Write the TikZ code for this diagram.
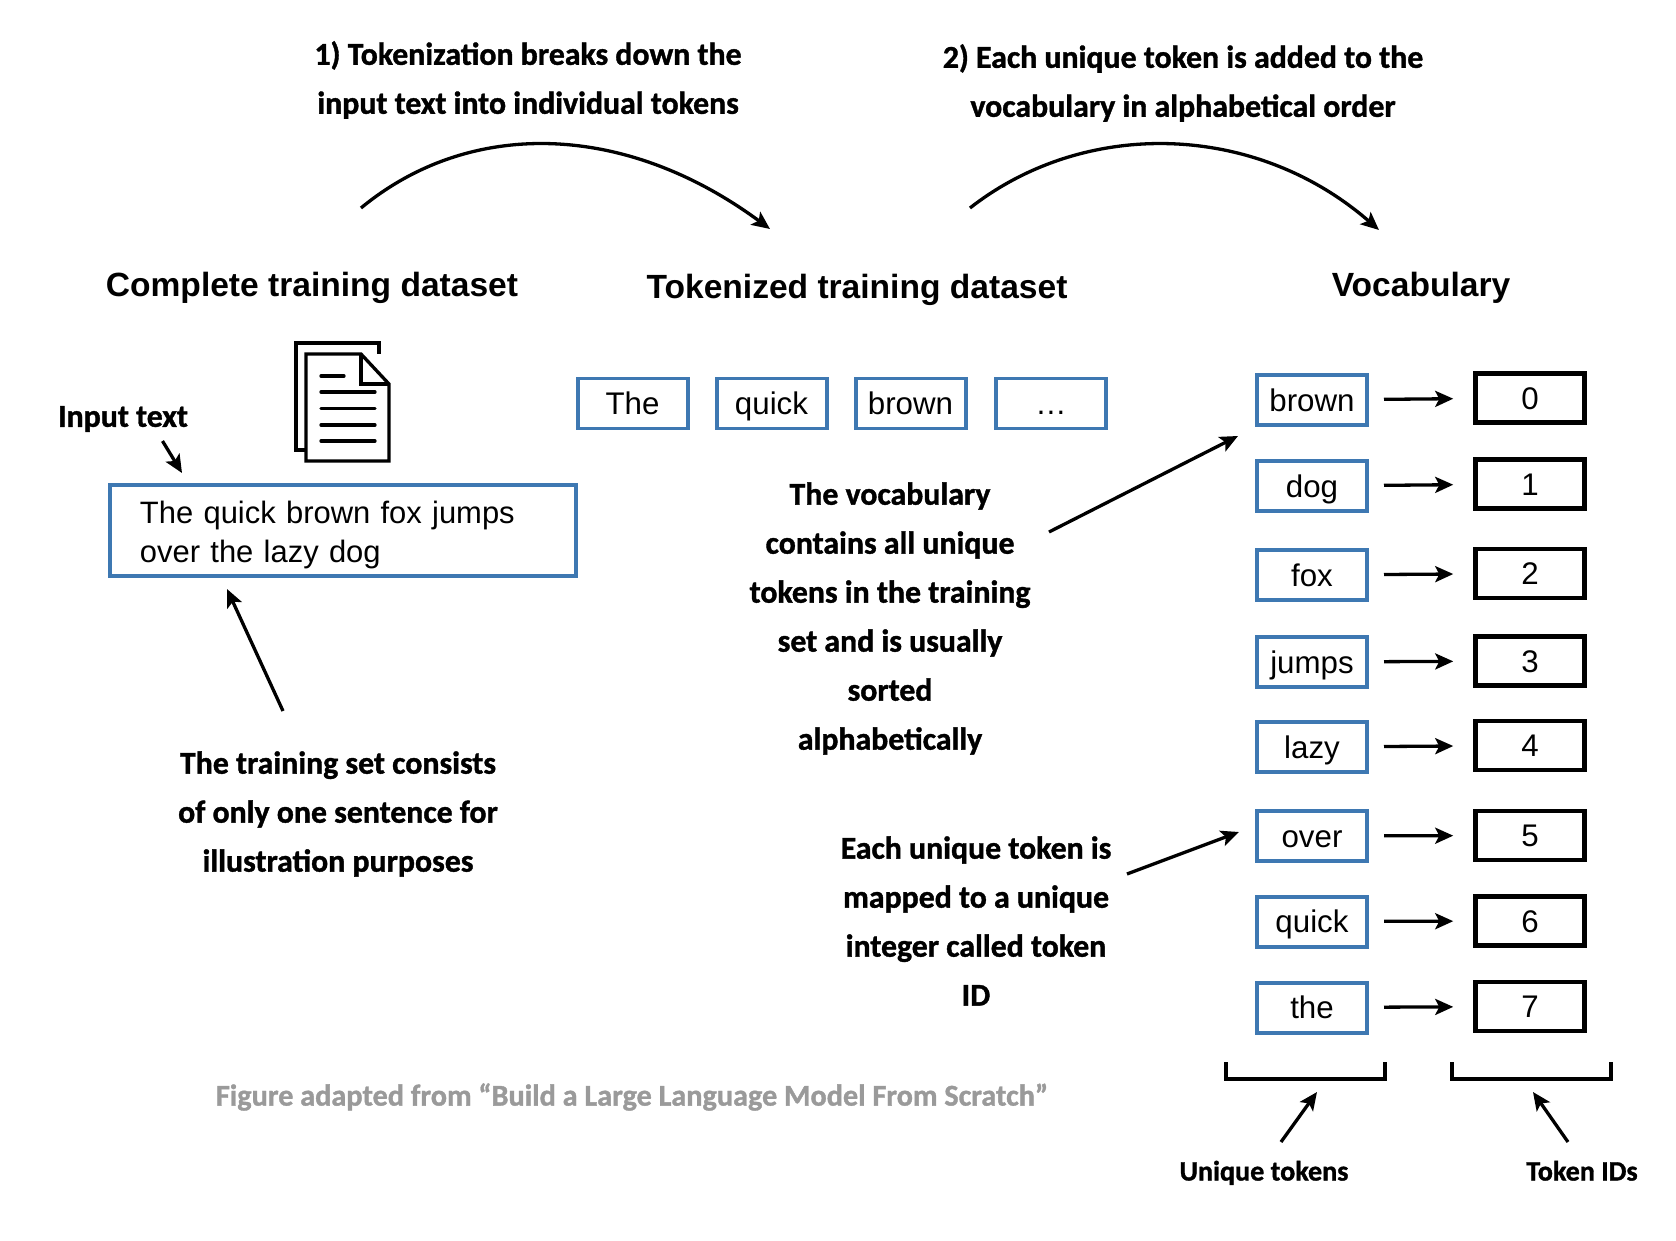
\documentclass[tikz,border=0pt]{standalone}
\usepackage{fontspec}
\setmainfont{Liberation Sans}
\newfontfamily\notefamily[FakeBold=1.2]{Carlito Bold}
\usetikzlibrary{arrows.meta}
\usetikzlibrary{calc}
\definecolor{tokenblue}{HTML}{3E78B2}
\definecolor{notegray}{HTML}{9A9A9A}
\tikzset{
  arrowline/.style={draw=black, line width=0.033cm, -{Stealth[length=1.8mm,width=1.6mm,inset=0.4mm]}},
  noteline/.style={font=\notefamily\fontsize{9.05}{13.94}\selectfont, align=center, inner sep=0pt},
  footline/.style={font=\notefamily\fontsize{8}{10}\selectfont, inner sep=0pt, text height=0.22cm, text depth=0.07cm},
  titleline/.style={font=\bfseries\fontsize{9.55}{11}\selectfont, inner sep=0pt},
  wordbox/.style={draw=tokenblue, line width=0.04cm, minimum width=1.10cm, minimum height=0.50cm, inner sep=0pt, text height=0.27cm, text depth=0.05cm, font=\fontsize{8.9}{10}\selectfont},
  idbox/.style={draw=black, line width=0.045cm, minimum width=1.09cm, minimum height=0.49cm, inner sep=0pt, text height=0.27cm, text depth=0.05cm, font=\fontsize{8.9}{10}\selectfont},
  docline/.style={draw=black, line width=0.033cm}
}
\begin{document}
\begin{tikzpicture}
        \useasboundingbox (0, 0) rectangle (16.76, 12.40);

        % top notes and titles
        \node[noteline] (stepone) at (5.28, 11.60) {1) Tokenization breaks down the\\input text into individual tokens};
        \node[noteline] (steptwo) at (11.83, 11.57) {2) Each unique token is added to the\\vocabulary in alphabetical order};
        \node[titleline] (completetitle) at (3.12, 9.52) {Complete training dataset};
        \node[titleline] (tokenizedtitle) at (8.57, 9.50) {Tokenized training dataset};
        \node[titleline] (vocabtitle) at (14.21, 9.52) {Vocabulary};

        \draw[arrowline] ([shift={(-1.67,-1.28)}]stepone.center) .. controls (4.70, 11.22) and (6.25, 11.18) .. ([shift={(-0.87,0.61)}]tokenizedtitle.center);
        \draw[arrowline] ([shift={(-2.13,-1.25)}]steptwo.center) .. controls (10.85, 11.22) and (12.55, 11.18) .. ([shift={(-0.42,0.58)}]vocabtitle.center);

        % document icon
        \draw[docline] (3.06, 7.90) -- (2.96, 7.90) -- (2.96, 8.97) -- (3.79, 8.97) -- (3.79, 8.86);
        \draw[docline, fill=white] (3.06, 8.86) -- (3.61, 8.86) -- (3.89, 8.56) -- (3.89, 7.79) -- (3.06, 7.79) -- cycle;
        \draw[docline] (3.61, 8.86) -- (3.61, 8.56) -- (3.89, 8.56);
        \draw[docline, line cap=round] (3.21, 8.64) -- (3.44, 8.64);
        \draw[docline, line cap=round] (3.21, 8.48) -- (3.75, 8.48);
        \draw[docline, line cap=round] (3.21, 8.315) -- (3.75, 8.315);
        \draw[docline, line cap=round] (3.21, 8.15) -- (3.75, 8.15);
        \draw[docline, line cap=round] (3.21, 7.99) -- (3.75, 7.99);

        % input text
        \node[noteline] (inputlabel) at (1.23, 8.21) {Input text};
        \node[draw=tokenblue, line width=0.04cm, text width=4.06cm, inner xsep=0.30cm, inner ysep=0pt, minimum height=0.91cm, align=left, font=\fontsize{8.8}{11.09}\selectfont] (inputbox) at (3.43, 7.095) {\rule{0pt}{9pt}The quick brown fox jumps\\over the lazy dog};
        \node[noteline] (trainnote) at (3.38, 4.26) {The training set consists\\of only one sentence for\\illustration purposes};

        \draw[arrowline] ([shift={(0.395,-0.22)}]inputlabel.center) -- ([shift={(0.74,0.10)}]inputbox.north west);
        \draw[arrowline] ([shift={(-0.55,1.03)}]trainnote.center) -- ([shift={(1.19,-0.11)}]inputbox.south west);

        % tokens
        \node[wordbox] (tokenthe) at (6.325, 8.365) {The};
        \node[wordbox] (tokenquick) at (7.715, 8.365) {quick};
        \node[wordbox] (tokenbrown) at (9.105, 8.365) {brown};
        \node[wordbox] (tokendots) at (10.51, 8.365) {\ldots};

        % vocabulary
        \node[wordbox] (wordbrown) at (13.12, 8.40) {brown};
        \node[wordbox] (worddog) at (13.12, 7.54) {dog};
        \node[wordbox] (wordfox) at (13.12, 6.65) {fox};
        \node[wordbox] (wordjumps) at (13.12, 5.78) {jumps};
        \node[wordbox] (wordlazy) at (13.12, 4.93) {lazy};
        \node[wordbox] (wordover) at (13.12, 4.04) {over};
        \node[wordbox] (wordquick) at (13.12, 3.185) {quick};
        \node[wordbox] (wordthe) at (13.12, 2.325) {the};

        \node[idbox] (id0) at (15.30, 8.42) {0};
        \node[idbox] (id1) at (15.30, 7.56) {1};
        \node[idbox] (id2) at (15.30, 6.665) {2};
        \node[idbox] (id3) at (15.30, 5.79) {3};
        \node[idbox] (id4) at (15.30, 4.945) {4};
        \node[idbox] (id5) at (15.30, 4.045) {5};
        \node[idbox] (id6) at (15.30, 3.19) {6};
        \node[idbox] (id7) at (15.30, 2.335) {7};

        \draw[arrowline, shorten <=0.15cm, shorten >=0.20cm] (wordbrown) -- (id0);
        \draw[arrowline, shorten <=0.15cm, shorten >=0.20cm] (worddog) -- (id1);
        \draw[arrowline, shorten <=0.15cm, shorten >=0.20cm] (wordfox) -- (id2);
        \draw[arrowline, shorten <=0.15cm, shorten >=0.20cm] (wordjumps) -- (id3);
        \draw[arrowline, shorten <=0.15cm, shorten >=0.20cm] (wordlazy) -- (id4);
        \draw[arrowline, shorten <=0.15cm, shorten >=0.20cm] (wordover) -- (id5);
        \draw[arrowline, shorten <=0.15cm, shorten >=0.20cm] (wordquick) -- (id6);
        \draw[arrowline, shorten <=0.15cm, shorten >=0.20cm] (wordthe) -- (id7);

        % side notes
        \node[noteline] (vocabnote) at (8.90, 6.215) {The vocabulary\\contains all unique\\tokens in the training\\set and is usually\\sorted\\alphabetically};
        \node[noteline] (eachnote) at (9.76, 3.19) {Each unique token is\\mapped to a unique\\integer called token\\ID};
        \node[noteline, font=\notefamily\fontsize{8.6}{11}\selectfont, text=notegray] (adaptednote) at (6.32, 1.43) {Figure adapted from “Build a Large Language Model From Scratch”};

        \draw[arrowline] ([shift={(1.59,0.865)}]vocabnote.center) -- ([shift={(-0.17,-0.36)}]wordbrown.west);
        \draw[arrowline] ([shift={(1.51,0.47)}]eachnote.center) -- ([shift={(-0.16,0.04)}]wordover.west);

        % brackets
        \coordinate (wordsbracket) at (13.055, 1.61);
        \coordinate (idsbracket) at (15.315, 1.61);
        \draw[line width=0.04cm] (12.26, 1.78) |- (13.85, 1.61) -- (13.85, 1.78);
        \draw[line width=0.04cm] (14.52, 1.78) |- (16.11, 1.61) -- (16.11, 1.78);

        \node[footline] (wordslabel) at (12.64, 0.67) {Unique tokens};
        \node[footline] (idslabel) at (15.82, 0.67) {Token IDs};

        \draw[arrowline] ([shift={(0.17,0.31)}]wordslabel.center) -- ([shift={(0.115,-0.13)}]wordsbracket);
        \draw[arrowline] ([shift={(-0.14,0.31)}]idslabel.center) -- ([shift={(0.015,-0.13)}]idsbracket);
      \end{tikzpicture}
\end{document}
